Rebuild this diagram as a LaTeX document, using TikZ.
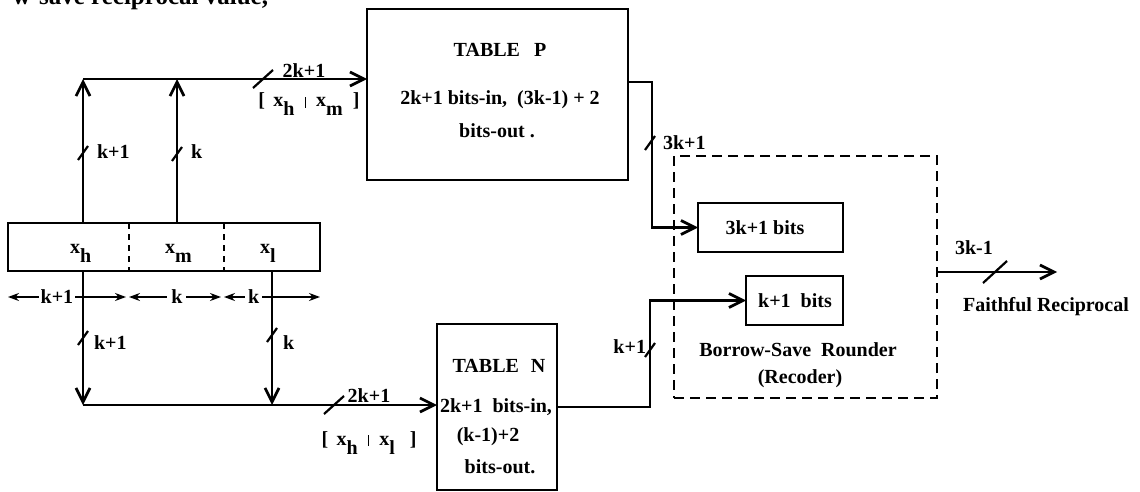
\documentclass[tikz,border=0pt]{standalone}
\usepackage{fontspec}
\setmainfont{Liberation Serif}
\usetikzlibrary{arrows.meta,calc}
\newcommand\lsub[1]{\raisebox{-9pt}{#1}}
\newcommand\sbar{\rule[-1pt]{1.6pt}{11pt}}
\begin{document}
\begin{tikzpicture}[x=1pt,y=-1pt,
  font=\fontsize{20}{22}\selectfont\bfseries,
  line width=2.7pt,
  box/.style={draw,rectangle,inner sep=0pt,outer sep=0pt},
  lbl/.style={inner sep=0pt,outer sep=0pt},
  bus/.style={-{Straight Barb[length=14pt,width=14pt,line width=2.7pt]}},
  dim/.style={{Stealth[length=11pt,width=8pt]}-{Stealth[length=11pt,width=8pt]},line width=1.8pt},
  busslash/.pic={\draw[line width=2.2pt] (-5,7) -- (5,-7);},
  wideslash/.pic={\draw[line width=2.2pt] (-10,9) -- (10,-9);},
  bigslash/.pic={\draw[line width=2.2pt] (-12,11) -- (12,-11);}
]
\useasboundingbox (0,0) rectangle (1140,492);
\clip (0,0) rectangle (1140,492);

% clipped line of text from the page above
\node[lbl,anchor=base east,font=\fontsize{25}{27}\selectfont\bfseries] (top) at (268,5) {w-save reciprocal value,};

% boxes
\node[box,minimum width=312pt,minimum height=48pt] (xb) at (164,247) {};
\node[box,minimum width=261pt,minimum height=171pt] (tp) at (497.5,94.5) {};
\node[box,minimum width=120pt,minimum height=166pt] (tn) at (497,407) {};
\node[box,dash pattern=on 10pt off 6pt,minimum width=263pt,minimum height=242pt] (rd) at (805.5,277) {};
\node[box,minimum width=145pt,minimum height=49pt] (b3) at (770.5,227.5) {};
\node[box,minimum width=97pt,minimum height=49pt] (b1) at (794.5,300.5) {};

% text in the small boxes
\node[lbl] (b3t) at (765,228) {3k+1 bits};
\node[lbl] (b1t) at (795,301) {k+1\ \ bits};

% dividers in x box
\coordinate (dv1) at (129,0);
\coordinate (dv2) at (224,0);
\draw[line width=2.2pt,dash pattern=on 6pt off 5pt] (xb.north -| dv1) -- (xb.south -| dv1);
\draw[line width=2.2pt,dash pattern=on 6pt off 5pt] (xb.north -| dv2) -- (xb.south -| dv2);
\node[lbl,anchor=base west] (xh) at (70,253) {x\lsub{h}};
\node[lbl,anchor=base west] (xm) at (165,253) {x\lsub{m}};
\node[lbl,anchor=base west] (xl) at (260,253) {x\lsub{l}};

% buses
\coordinate (tl) at (83,79);
\coordinate (tm) at (177,79);
\coordinate (bl) at (83,405);
\coordinate (bm) at (272,405);
\draw[bus] (xb.north -| tl) -- (tl);
\draw[bus] (xb.north -| tm) -- (tm);
\draw[bus] (tl) -- (tl -| tp.west);
\draw[bus] (xb.south -| bl) -- (bl);
\draw[bus] (xb.south -| bm) -- (bm);
\draw[bus] (bl) -- (bl -| tn.west);

\coordinate (p1) at (652,82);
\draw[bus] (p1 -| tp.east) -- (p1) |- (b3.west);
\coordinate (n1) at (650,300.5);
\draw[bus] (tn.east) -| (n1) -- (b1.west);
\coordinate (fr) at (1057,272);
\draw[bus,line width=2.2pt] (fr -| rd.east) -- (fr);

% slashes
\pic at (263,79) {wideslash};
\pic at (334,405) {wideslash};
\pic at (83,153) {busslash};
\pic at (177,154) {busslash};
\pic at (83,338) {busslash};
\pic at (272,335) {busslash};
\pic at (650,143) {busslash};
\pic at (650,350) {busslash};
\pic at (995,272) {bigslash};

% bus labels
\node[lbl] (l2k1a) at (304,71) {2k+1};
\node[lbl,anchor=base] (lxhm) at (309,107) {[\ \,x\lsub{h}\ \ \sbar\ \ x\lsub{m}\ \ ]};
\node[lbl] (l2k1b) at (369,396) {2k+1};
\node[lbl,anchor=base] (lxhl) at (369,445) {[\ \,x\lsub{h}\ \ \sbar\ \ x\lsub{l}\ \ \ ]};
\node[lbl,anchor=west] (lk1a) at (97,152) {k+1};
\node[lbl,anchor=west] (lka) at (191,152) {k};
\node[lbl,anchor=west] (lk1b) at (94,343) {k+1};
\node[lbl,anchor=west] (lkb) at (283,343) {k};
\node[lbl,anchor=west] (l3k1) at (663,143) {3k+1};
\node[lbl,anchor=east] (lk1c) at (646,347) {k+1};
\node[lbl] (l3km1) at (974,248) {3k-1};
\node[lbl] (lfr) at (1046,307) {Faithful Reciprocal};

% dimension arrows
\coordinate (d0) at (8,297);
\coordinate (d1) at (126,297);
\coordinate (d2) at (129,297);
\coordinate (d3) at (221,297);
\coordinate (d4) at (224,297);
\coordinate (d5) at (320,297);
\draw[dim] (d0) -- node[lbl,fill=white,pos=0.415,inner xsep=2pt] (dk1) {k+1} (d1);
\draw[dim] (d2) -- node[lbl,fill=white,pos=0.52,inner xsep=4pt] (dk2) {k} (d3);
\draw[dim] (d4) -- node[lbl,fill=white,pos=0.31,inner xsep=3pt] (dk3) {k} (d5);

% table texts
\node[lbl] (tpt1) at (500,50) {TABLE\hspace{14pt}P};
\node[lbl] (tpt2) at (500,100) {2k+1 bits-in,\ \ (3k-1) + 2};
\node[lbl] (tpt3) at (497,131) {bits-out .};
\node[lbl] (tnt1) at (499,366) {TABLE\hspace{12pt}N};
\node[lbl] (tnt2) at (496,407) {2k+1\ \ bits-in,};
\node[lbl] (tnt3) at (488,437) {(k-1)+2};
\node[lbl] (tnt4) at (500,467) {bits-out.};

\node[lbl] (rdt1) at (798,350) {Borrow-Save\ \ Rounder};
\node[lbl] (rdt2) at (800,379) {(Recoder)};
\end{tikzpicture}
\end{document}
